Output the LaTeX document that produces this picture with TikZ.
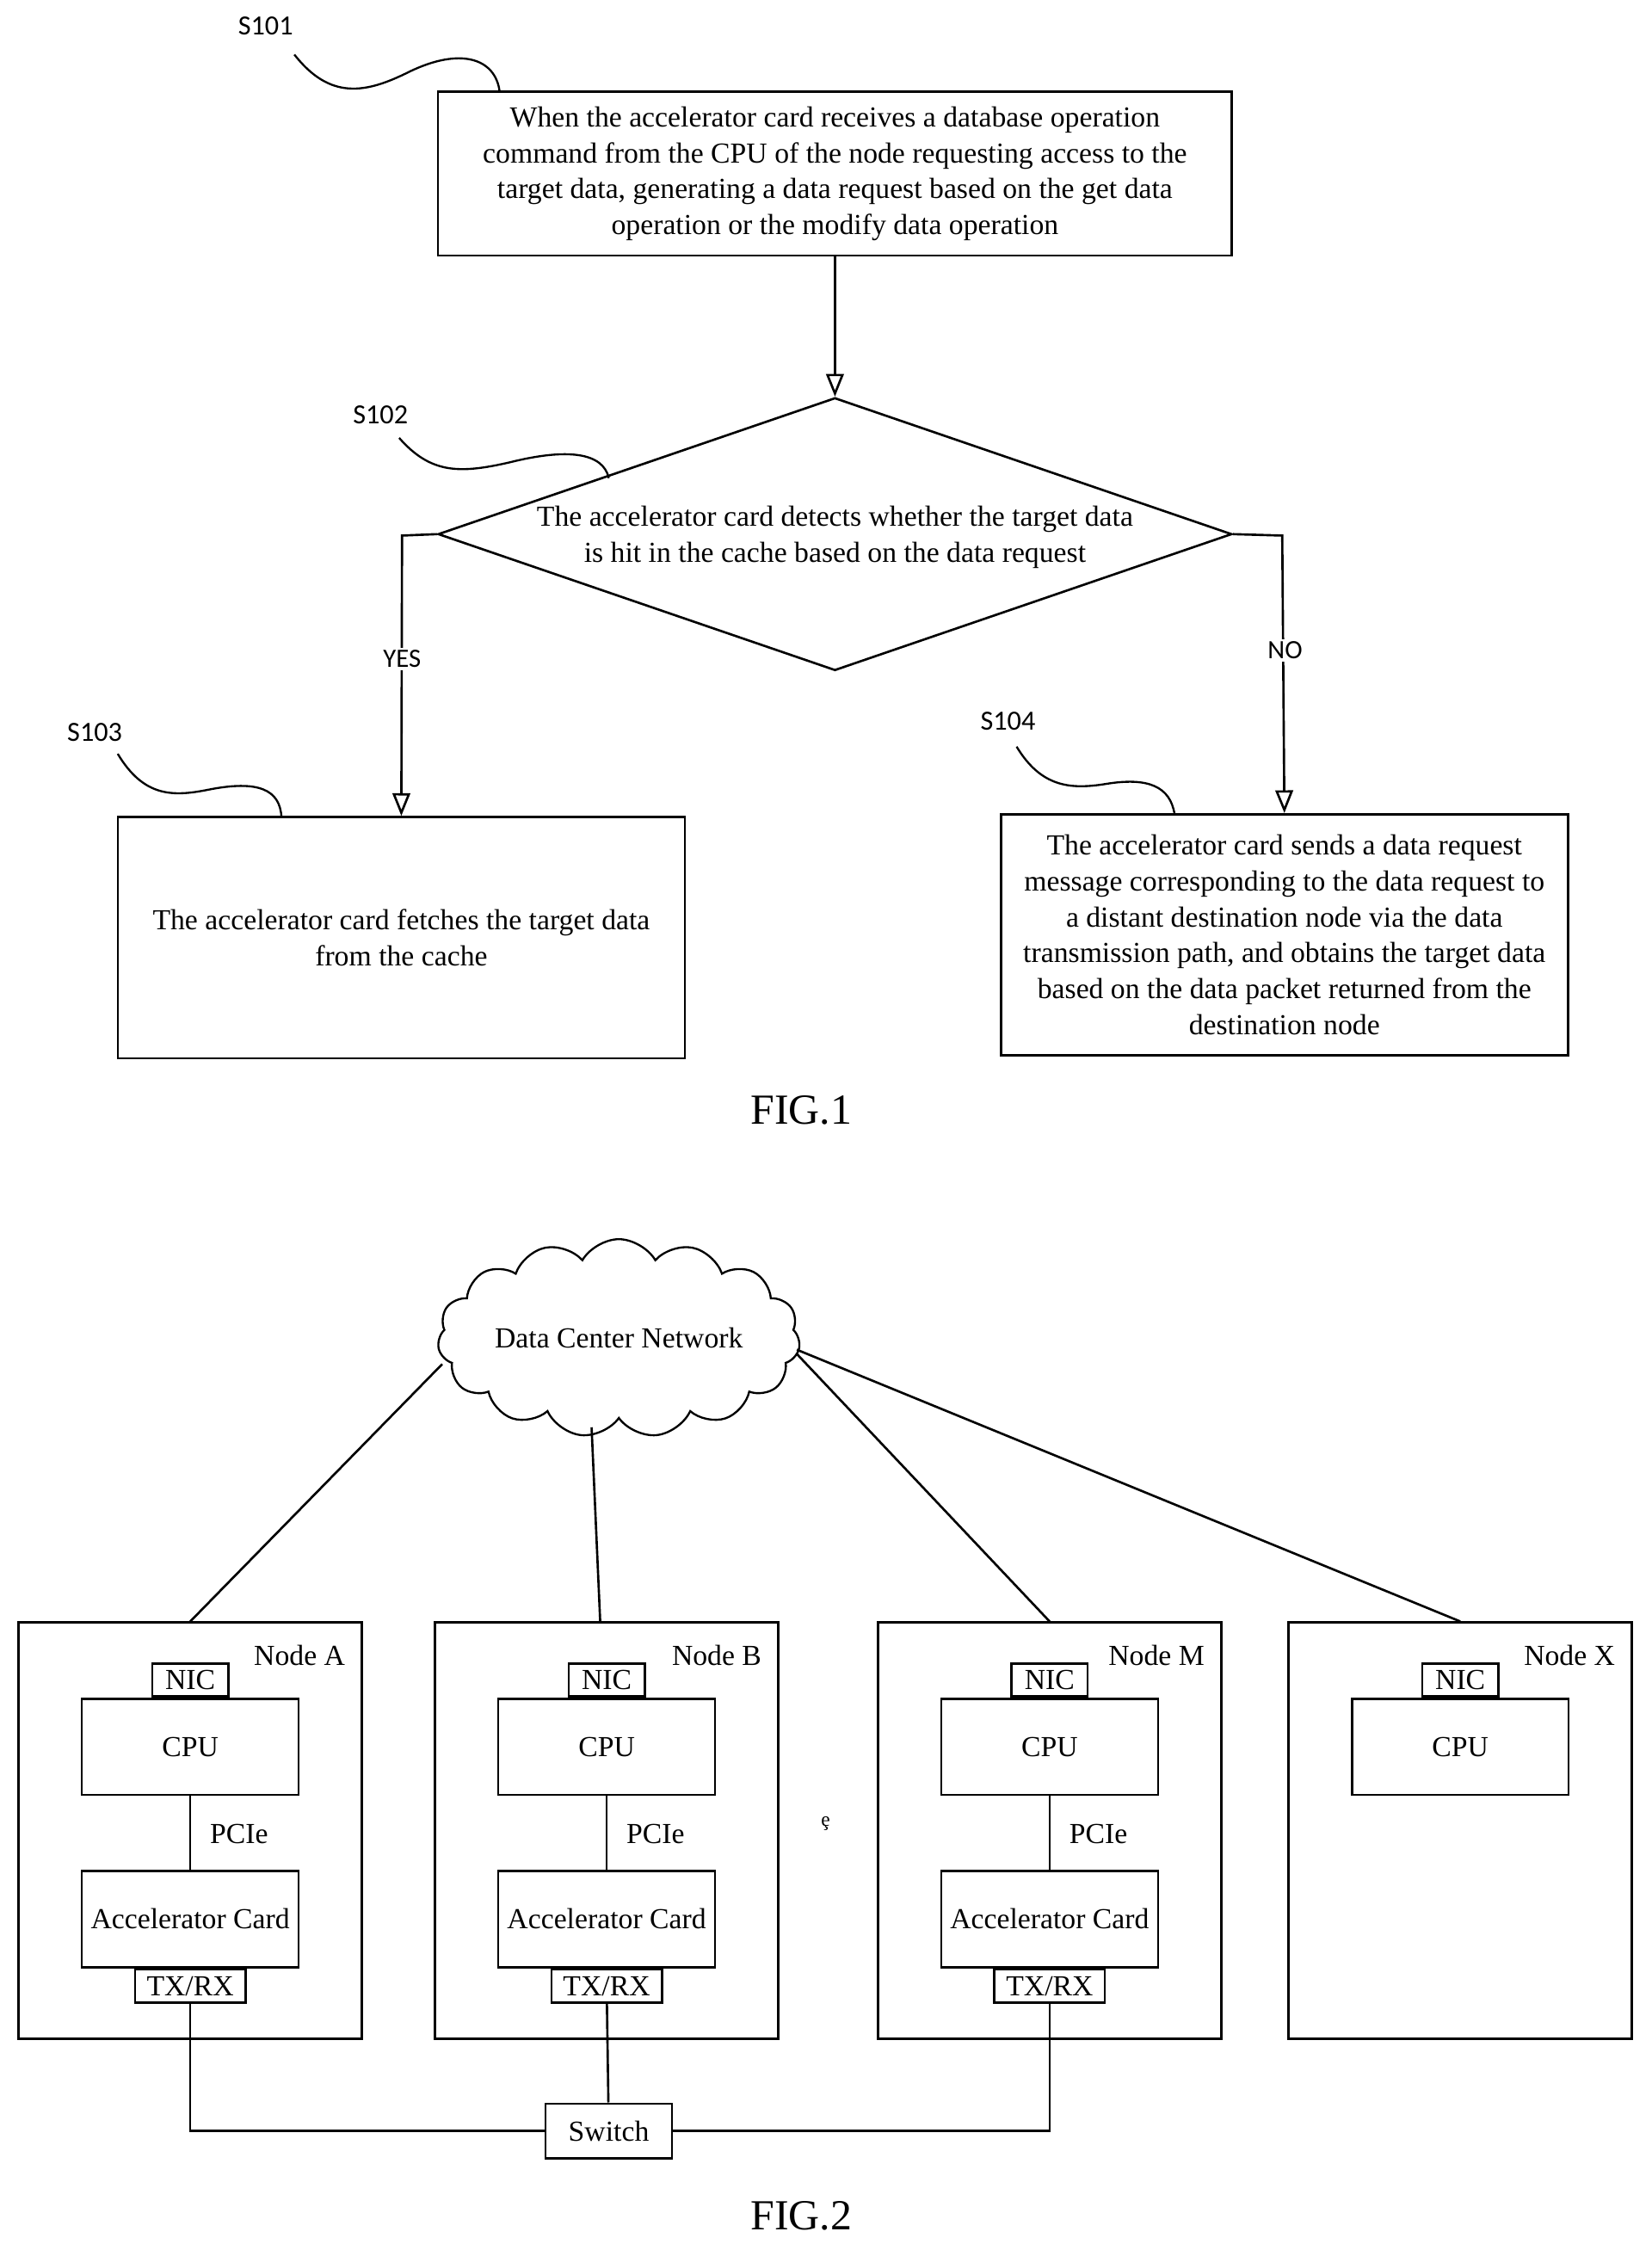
\documentclass[tikz,border=0pt]{standalone}
\usepackage{fontspec}
\setmainfont{Liberation Serif}
\newfontfamily\lab{Carlito}
\usetikzlibrary{shapes.geometric,shapes.symbols,arrows.meta}
\begin{document}
\begin{tikzpicture}[x=0.02cm,y=-0.02cm,
  box/.style={draw,line width=0.9pt,inner sep=2pt,align=center,font=\fontsize{11.5}{14.2}\selectfont},
  sm/.style={draw,line width=0.9pt,inner sep=0pt,align=center,font=\fontsize{11.5}{14}\selectfont},
  arr/.style={line width=0.9pt,-{Triangle[width=7pt,length=9pt,open]}},
  ln/.style={line width=0.9pt},
  sq/.style={line width=0.8pt},
  steplab/.style={font=\lab\fontsize{11}{13}\selectfont},
  txt/.style={font=\fontsize{11.5}{14.2}\selectfont,align=center},
  fig/.style={font=\fontsize{17}{20}\selectfont}]
\useasboundingbox (0,0) rectangle (1150,1567);
% FIG 1
\node[box,minimum width=11.06cm,minimum height=2.28cm] (b1) at (581.5,121) {When the accelerator card receives a database operation\\command from the CPU of the node requesting access to the\\target data, generating a data request based on the get data\\operation or the modify data operation};
\node[draw,diamond,line width=0.9pt,minimum width=11.06cm,minimum height=3.8cm,inner sep=0pt] (d) at (581.5,372) {};
\node[txt] (dt) at (581.5,374) {The accelerator card detects whether the target data\\is hit in the cache based on the data request};
\node[box,minimum width=7.9cm,minimum height=3.36cm] (b3) at (279.5,653) {The accelerator card fetches the target data\\from the cache};
\node[box,minimum width=7.9cm,minimum height=3.36cm] (b4) at (894.5,651) {The accelerator card sends a data request\\message corresponding to the data request to\\a distant destination node via the data\\transmission path, and obtains the target data\\based on the data packet returned from the\\destination node};
\draw[arr] (b1.south) -- (d.north);
\coordinate (yl) at (280,373); \coordinate (nl) at (893,373);
\draw[arr] (d.west) -- (yl) -- (b3.north);
\draw[arr] (d.east) -- (nl) -- (b4.north);
\node[font=\lab\fontsize{10.5}{12}\selectfont,fill=white,inner sep=1pt] (yes) at (280,459) {YES};
\node[font=\lab\fontsize{10.5}{12}\selectfont,fill=white,inner sep=1pt] (no) at (895,453) {NO};
\node[steplab] (s1) at (185,18) {S101};
\node[steplab] (s2) at (265,289) {S102};
\node[steplab] (s3) at (66,510) {S103};
\node[steplab] (s4) at (702,502) {S104};
\coordinate (e1) at (348,64); \coordinate (e2) at (424,333); \coordinate (e3) at (196,569); \coordinate (e4) at (818,567);
\draw[sq] (205,38) .. controls (230,70) and (255,65) .. (285,50) .. controls (320,33) and (345,40) .. (e1);
\draw[sq] (278,305) .. controls (300,330) and (320,330) .. (355,322) .. controls (395,312) and (420,315) .. (e2);
\draw[sq] (82,525) .. controls (100,555) and (120,555) .. (145,550) .. controls (180,543) and (195,550) .. (e3);
\draw[sq] (708,520) .. controls (725,548) and (745,550) .. (770,546) .. controls (800,541) and (815,548) .. (e4);
\node[fig] (f1) at (558,773) {FIG.1};
% FIG 2
\node[draw,cloud,cloud puffs=15,cloud puff arc=120,aspect=2.2,line width=0.8pt,minimum width=4.5cm,minimum height=2.2cm,inner sep=0pt,font=\fontsize{11.5}{14}\selectfont] (net) at (431,932) {Data Center Network};
\foreach \n/\x/\l in {A/132.5/Node A,B/422.5/Node B,M/731/Node M,X/1017/Node X}{
  \node[draw,line width=0.9pt,minimum width=4.78cm,minimum height=5.8cm] (N\n) at (\x,1275) {};
  \node[font=\fontsize{11.5}{14}\selectfont,anchor=east] (L\n) at (\x+114,1153) {\l};
  \node[sm,minimum width=3.02cm,minimum height=1.34cm] (C\n) at (\x,1216.5) {CPU};
  \node[sm,minimum width=1.06cm,minimum height=0.46cm,anchor=south] (I\n) at (C\n.north) {NIC};
}
\foreach \n/\x in {A/132.5,B/422.5,M/731}{
  \node[sm,minimum width=3.02cm,minimum height=1.34cm] (A\n) at (\x,1336.5) {Accelerator Card};
  \node[sm,minimum width=1.54cm,minimum height=0.46cm,anchor=north] (T\n) at (A\n.south) {TX/RX};
  \draw[ln] (C\n) -- (A\n);
  \node[font=\fontsize{11.5}{14}\selectfont] (P\n) at (\x+34,1277) {PCIe};
}
\node[font=\fontsize{8}{9}\selectfont] (dots) at (575,1270) {ȩ};
\node[sm,minimum width=1.76cm,minimum height=0.76cm] (sw) at (424,1484) {Switch};
\coordinate (ca) at (132.5,1484); \coordinate (cm) at (731,1484);
\draw[ln] (TA) -- (ca) -- (sw);
\draw[ln] (TB) -- (sw);
\draw[ln] (TM) -- (cm) -- (sw);
\coordinate (n1) at (308,950); \coordinate (n2) at (412,994); \coordinate (n3) at (555,943); \coordinate (n4) at (555,940);
\draw[ln] (n1) -- (NA.north);
\draw[ln] (n2) -- (NB.north -| 418,0);
\draw[ln] (n3) -- (NM.north);
\draw[ln] (n4) -- (NX.north);
\node[fig] (f2) at (558,1543) {FIG.2};
\end{tikzpicture}
\end{document}
